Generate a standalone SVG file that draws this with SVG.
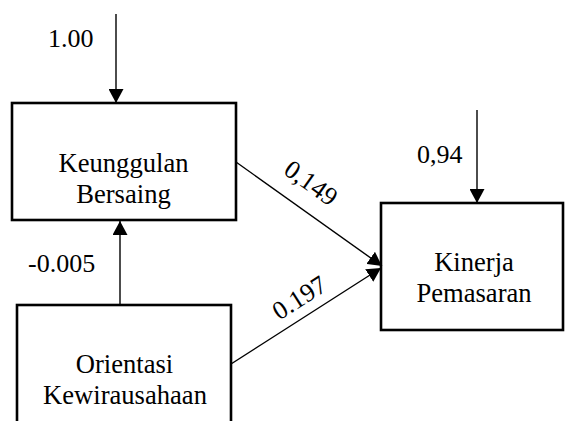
<svg xmlns="http://www.w3.org/2000/svg" width="565" height="421" viewBox="0 0 565 421">
  <style>
    .box { fill: #ffffff; stroke: #000000; stroke-width: 2.6; }
    .edge { fill: none; stroke: #000000; stroke-width: 1.4; }
    text { font-family: 'Liberation Serif', 'Times New Roman', Times, serif; font-size: 26px; fill: #000000; }
    .node text { font-size: 26.6px; }
    .mid { text-anchor: middle; }
  </style>
  <defs>
    <marker id="head" viewBox="0 0 14 15" refX="14" refY="7.5" markerWidth="14" markerHeight="15" markerUnits="userSpaceOnUse" orient="auto">
      <path d="M0,0 L14,7.5 L0,15 Z" fill="#000000"/>
    </marker>
  </defs>

  <g id="node-keunggulan" class="node">
    <rect class="box" x="12" y="103" width="224" height="117"/>
    <text class="mid" x="123.5" y="172">Keunggulan</text>
    <text class="mid" x="123.5" y="203">Bersaing</text>
  </g>

  <g id="node-kinerja" class="node">
    <rect class="box" x="381" y="203" width="182" height="127"/>
    <text class="mid" x="474" y="271">Kinerja</text>
    <text class="mid" x="474" y="302">Pemasaran</text>
  </g>

  <g id="node-orientasi" class="node">
    <rect class="box" x="17" y="305" width="214" height="130"/>
    <text class="mid" x="124.5" y="373">Orientasi</text>
    <text class="mid" x="125" y="404">Kewirausahaan</text>
  </g>

  <g id="connectors">
    <line class="edge" x1="116" y1="14" x2="116" y2="103" marker-end="url(#head)"/>
    <line class="edge" x1="477" y1="110" x2="477" y2="203" marker-end="url(#head)"/>
    <line class="edge" x1="120" y1="305" x2="120" y2="221" marker-end="url(#head)"/>
    <line class="edge" x1="236" y1="162" x2="382" y2="266" marker-end="url(#head)"/>
    <line class="edge" x1="231" y1="364" x2="381" y2="268" marker-end="url(#head)"/>
  </g>

  <g id="labels">
    <text x="48" y="47">1.00</text>
    <text x="417" y="163">0,94</text>
    <text x="28" y="272">-0.005</text>
    <text class="mid" transform="translate(306 190) rotate(35.4)">0,149</text>
    <text class="mid" transform="translate(304 305) rotate(-32.5)">0.197</text>
  </g>
</svg>
